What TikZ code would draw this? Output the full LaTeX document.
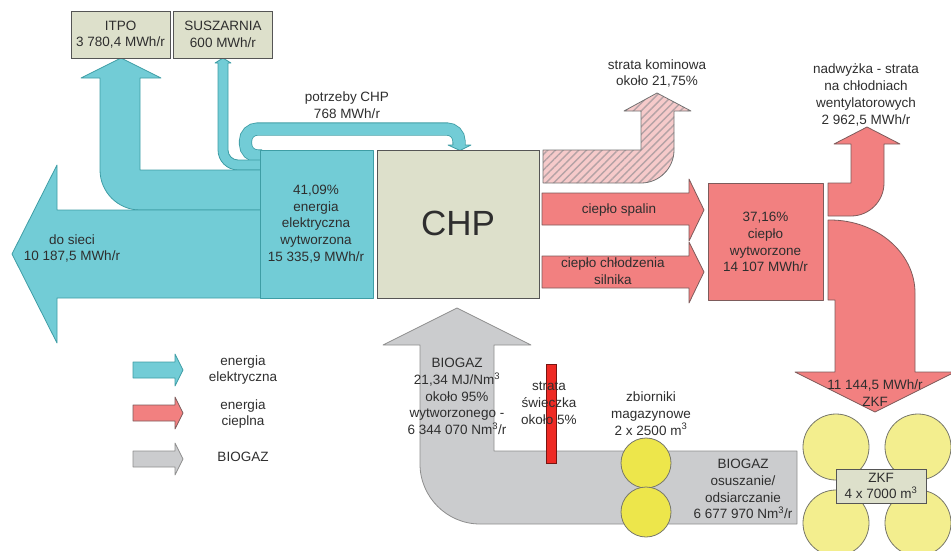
\documentclass[tikz,border=0pt]{standalone}
\usepackage{fontspec}
\setmainfont{Liberation Sans}
\usetikzlibrary{patterns.meta}
\definecolor{blueF}{HTML}{72CCD6}
\definecolor{blueD}{HTML}{3E9DA5}
\definecolor{pinkF}{HTML}{F28080}
\definecolor{pinkD}{HTML}{7D5B5B}
\definecolor{grayF}{HTML}{CBCCCE}
\definecolor{grayD}{HTML}{8E8E8E}
\definecolor{beigeF}{HTML}{DDE0CB}
\definecolor{beigeD}{HTML}{555555}
\definecolor{hatchbg}{HTML}{F6CACA}
\definecolor{hatchln}{HTML}{B4A2A5}
\definecolor{yelB}{HTML}{EDE64B}
\definecolor{yelP}{HTML}{F3EE8E}
\definecolor{yelD}{HTML}{77776A}
\definecolor{redbar}{HTML}{EE2A24}
\definecolor{textc}{HTML}{2E2E2E}
\begin{document}
\begin{tikzpicture}[x=1pt,y=-1pt,
  bshape/.style={fill=blueF, draw=blueD, line width=0.8pt, line join=round},
  pshape/.style={fill=pinkF, draw=pinkD, line width=0.8pt, line join=round},
  gshape/.style={fill=grayF, draw=grayD, line width=0.8pt, line join=round},
  ebox/.style={fill=beigeF, draw=beigeD, line width=0.8pt},
  txt/.style={inner sep=0pt, align=center, text=textc, font=\fontsize{13.5}{16.7}\selectfont},
  tank/.style={fill=yelP, draw=yelD, line width=0.8pt},
  tankB/.style={fill=yelB, draw=yelD, line width=0.8pt}]
\useasboundingbox (0,0) rectangle (951,550);

% ---------- electric (blue) ----------
% potrzeby CHP loop
\draw[draw=blueD, line width=0.8pt, double=blueF, double distance=11.5pt, rounded corners=12pt]
  (262,156) -- (245.5,156) -- (245.5,129) -- (459,129) -- (459,146.5);
\fill[blueF] (453.2,145) -- (448,145) -- (460,150.5) -- (471,145) -- (464.8,145) -- cycle;
\draw[draw=blueD, line width=0.8pt, line join=round] (453.2,145) -- (448,145) -- (460,150.5) -- (471,145) -- (464.8,145);

% SUSZARNIA branch
\draw[bshape] (262,160) -- (238,160) .. controls (232.5,160) and (228,155.5) .. (228,150)
  -- (228,63) -- (231,63) -- (223,58) -- (215,63) -- (218,63) -- (218,150)
  .. controls (218,161) and (227,170) .. (238,170) -- (262,170) -- cycle;

% ITPO branch
\draw[bshape] (262,170) -- (140,170) -- (140,78) -- (161,78) -- (121,58) -- (81,78) -- (100,78)
  -- (100,170) .. controls (100,192) and (118,210) .. (140,210) -- (262,210) -- cycle;

% do sieci arrow
\draw[bshape] (262,210) -- (57,210) -- (57,165) -- (12,254) -- (57,343) -- (57,298) -- (262,298) -- cycle;

% electric box
\draw[bshape] (260,150) rectangle (373,298);

% CHP box
\draw[ebox] (377,150) rectangle (539,298);

% ---------- heat (pink) ----------
% strata kominowa (hatched)
\path[fill=hatchbg] (543,150) -- (641,150) -- (641,111) -- (624,111) -- (657,93) -- (691,111) -- (674,111)
  -- (674,150) .. controls (674,168.2) and (659.2,183) .. (641,183) -- (543,183) -- cycle;
\path[pattern={Lines[angle=45,distance=5.5pt,line width=1.4pt]}, pattern color=hatchln]
  (543,150) -- (641,150) -- (641,111) -- (624,111) -- (657,93) -- (691,111) -- (674,111)
  -- (674,150) .. controls (674,168.2) and (659.2,183) .. (641,183) -- (543,183) -- cycle;
\draw[draw=grayD!80!black, line width=0.8pt, line join=round]
  (543,150) -- (641,150) -- (641,111) -- (624,111) -- (657,93) -- (691,111) -- (674,111)
  -- (674,150) .. controls (674,168.2) and (659.2,183) .. (641,183) -- (543,183) -- cycle;

% ciepło spalin
\draw[pshape] (542,193) -- (689,193) -- (689,179) -- (704,210) -- (689,241) -- (689,225) -- (542,225) -- cycle;
% ciepło chłodzenia
\draw[pshape] (542,256) -- (689,256) -- (689,242) -- (704,272) -- (689,303) -- (689,288) -- (542,288) -- cycle;
% heat box
\draw[pshape] (708,183) rectangle (823,300);

% nadwyżka
\draw[pshape] (828,183) -- (851,183) -- (851,144) -- (834,144) -- (867,127) -- (900,144) -- (884,144)
  -- (884,183) .. controls (884,201.2) and (869.2,216) .. (851,216) -- (828,216) -- cycle;

% ZKF big arrow
\draw[pshape] (828,220) -- (830,220) .. controls (877,220) and (915,253) .. (915,293)
  -- (915,372) -- (955,372) -- (875,412) -- (795,372) -- (835,372) -- (835,300) -- (828,300) -- cycle;

% ZKF tanks
\draw[tank] (836,447) circle[radius=33];
\draw[tank] (918,447) circle[radius=33];
\draw[tank] (836,523) circle[radius=33];
\draw[tank] (918,523) circle[radius=33];
\node[ebox, minimum width=90pt, minimum height=34pt, inner sep=0pt] (zkfbox) at (881,486) {};

% ---------- biogas (gray) ----------
\draw[gshape] (797,451) -- (494,451) -- (494,345) -- (531,345) -- (457,308) -- (383,345) -- (420,345)
  -- (420,464) .. controls (420,497) and (447,524) .. (480,524) -- (797,524) -- cycle;

% zbiorniki magazynowe
\draw[tankB] (646,463) circle[radius=25];
\draw[tankB] (646,512) circle[radius=25];

% strata świeczka bar
\draw[fill=redbar, draw=redbar!50!black, line width=0.8pt] (546,364) rectangle (556,463);

% ---------- legend ----------
\draw[bshape] (133,362) -- (175,362) -- (175,354) -- (183,370) -- (175,386) -- (175,378) -- (133,378) -- cycle;
\draw[pshape] (133,405) -- (175,405) -- (175,397) -- (183,413) -- (175,429) -- (175,421) -- (133,421) -- cycle;
\draw[gshape] (133,451) -- (175,451) -- (175,443) -- (183,459) -- (175,475) -- (175,467) -- (133,467) -- cycle;

% ---------- boxes on top ----------
\node[ebox, minimum width=99pt, minimum height=47pt, inner sep=0pt] (itpo) at (120.5,34.5) {};
\node[ebox, minimum width=99.5pt, minimum height=47pt, inner sep=0pt] (susz) at (223,34.5) {};

% ---------- texts ----------
\node[txt] (titpo) at (120.5,34.5) {ITPO\\3 780,4 MWh/r};
\node[txt] (tsusz) at (223,34.5) {SUSZARNIA\\600 MWh/r};
\node[txt] (tpotr) at (347,105.5) {potrzeby CHP\\768 MWh/r};
\node[txt] (tsieci) at (72,248.5) {do sieci\\10 187,5 MWh/r};
\node[txt] (telek) at (316,224) {41,09\%\\energia\\elektryczna\\wytworzona\\15 335,9 MWh/r};
\node[inner sep=0pt, text=textc, font=\fontsize{35}{40}\selectfont] (tchp) at (458,223) {CHP};
\node[txt] (tkomin) at (657,73.5) {strata kominowa\\około 21,75\%};
\node[txt] (tspal) at (619,210) {ciepło spalin};
\node[txt] (tchlod) at (613,271) {ciepło chłodzenia\\silnika};
\node[txt] (tciep) at (765.5,242) {37,16\%\\ciepło\\wytworzone\\14 107 MWh/r};
\node[txt] (tnadw) at (866,95) {nadwyżka - strata\\na chłodniach\\wentylatorowych\\2 962,5 MWh/r};
\node[txt] (tzkfa) at (875,393) {11 144,5 MWh/r\\ZKF};
\node[txt] (tzkf) at (881,486) {ZKF\\4 x 7000 m\textsuperscript{3}};
\node[txt] (tzb) at (651,413.5) {zbiorniki\\magazynowe\\2 x 2500 m\textsuperscript{3}};
\node[txt] (tos) at (743,489) {BIOGAZ\\osuszanie/\\odsiarczanie\\6 677 970 Nm\textsuperscript{3}/r};
\node[txt] (tbio) at (457,396.5) {BIOGAZ\\21,34 MJ/Nm\textsuperscript{3}\\około 95\%\\wytworzonego -\\6 344 070 Nm\textsuperscript{3}/r};
\node[txt] (tswi) at (549,403) {strata\\świeczka\\około 5\%};
\node[txt] (lg1) at (243,370) {energia\\elektryczna};
\node[txt] (lg2) at (243,414) {energia\\cieplna};
\node[txt] (lg3) at (243,457) {BIOGAZ};
\end{tikzpicture}
\end{document}
